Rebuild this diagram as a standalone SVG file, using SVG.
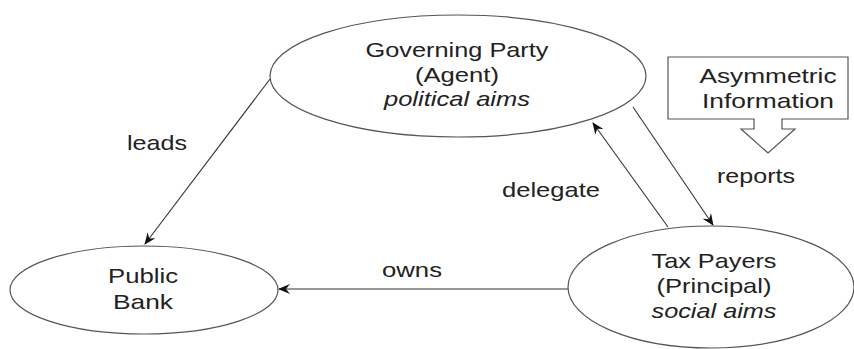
<svg xmlns="http://www.w3.org/2000/svg" width="854" height="349" viewBox="0 0 854 349">
<defs>
<style>
.node{fill:#fff;stroke:#555;stroke-width:1.2}
.t{font-family:"Liberation Sans",Arial,sans-serif;font-size:21px;fill:#222;text-anchor:middle}
.i{font-style:italic}
.edge{stroke:#333;stroke-width:1.1;fill:none;marker-end:url(#ah)}
</style>
<marker id="ah" viewBox="0 0 12 10" refX="11" refY="5" markerWidth="12" markerHeight="10" markerUnits="userSpaceOnUse" orient="auto">
<path d="M0,0 L12,5 L0,10 L4,5 Z" fill="#111"/>
</marker>
</defs>
<rect width="854" height="349" fill="#fff"/>
<g id="connectors">
<line class="edge" x1="270" y1="79" x2="145" y2="244"/>
<line class="edge" x1="568" y1="289" x2="279" y2="289"/>
<line class="edge" x1="668" y1="227" x2="593" y2="123"/>
<line class="edge" x1="633" y1="107" x2="713" y2="225"/>
</g>
<g id="governing-party">
<ellipse class="node" cx="458" cy="76" rx="188" ry="61"/>
<text class="t" x="457" y="57" textLength="183" lengthAdjust="spacingAndGlyphs">Governing Party</text>
<text class="t" x="457" y="82" textLength="84" lengthAdjust="spacingAndGlyphs">(Agent)</text>
<text class="t i" x="457" y="106" textLength="146" lengthAdjust="spacingAndGlyphs">political aims</text>
</g>
<g id="public-bank">
<ellipse class="node" cx="144" cy="290" rx="134" ry="44"/>
<text class="t" x="143" y="283" textLength="70" lengthAdjust="spacingAndGlyphs">Public</text>
<text class="t" x="143" y="309" textLength="60" lengthAdjust="spacingAndGlyphs">Bank</text>
</g>
<g id="tax-payers">
<ellipse class="node" cx="711" cy="287" rx="143" ry="61"/>
<text class="t" x="714" y="268" textLength="125" lengthAdjust="spacingAndGlyphs">Tax Payers</text>
<text class="t" x="714" y="293" textLength="115" lengthAdjust="spacingAndGlyphs">(Principal)</text>
<text class="t i" x="714" y="318" textLength="125" lengthAdjust="spacingAndGlyphs">social aims</text>
</g>
<g id="asymmetric-information">
<polygon class="node" points="668,57 848,57 848,119 782,119 782,129 795,129 768,153 741,129 754,129 754,119 668,119"/>
<text class="t" x="768" y="83" textLength="137" lengthAdjust="spacingAndGlyphs">Asymmetric</text>
<text class="t" x="768" y="108" textLength="132" lengthAdjust="spacingAndGlyphs">Information</text>
</g>
<g id="labels">
<text class="t" x="157" y="150" textLength="60" lengthAdjust="spacingAndGlyphs">leads</text>
<text class="t" x="412" y="277" textLength="60" lengthAdjust="spacingAndGlyphs">owns</text>
<text class="t" x="551" y="197" textLength="98" lengthAdjust="spacingAndGlyphs">delegate</text>
<text class="t" x="756" y="183" textLength="78" lengthAdjust="spacingAndGlyphs">reports</text>
</g>
</svg>
